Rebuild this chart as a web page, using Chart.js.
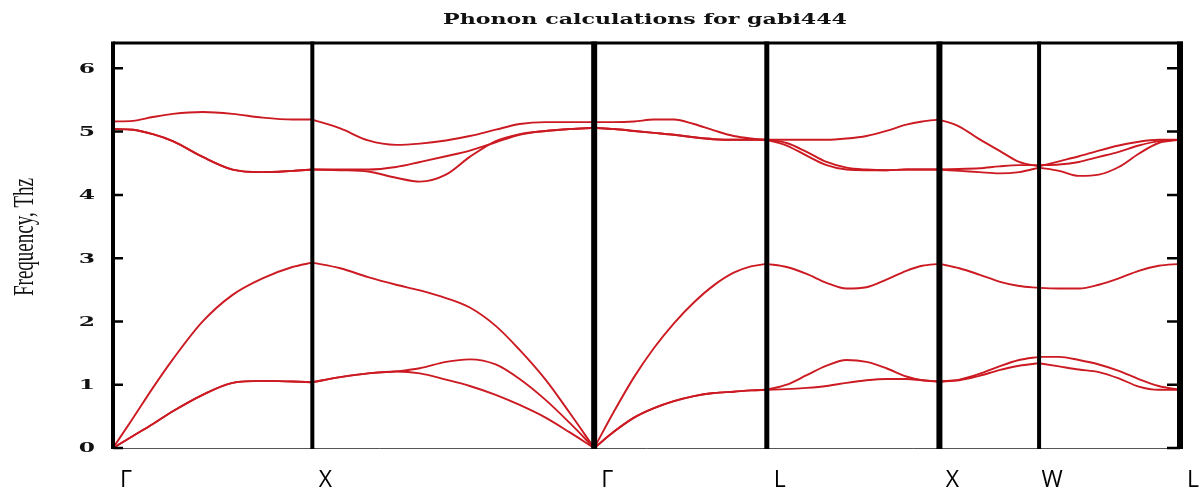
<!DOCTYPE html>
<html>
<head>
<meta charset="utf-8">
<script src="https://cdn.jsdelivr.net/npm/chart.js@4.4.1/dist/chart.umd.min.js"></script>
<style>
  html, body { margin: 0; padding: 0; background: #ffffff; }
  #wrap { width: 1203px; height: 495px; }
</style>
</head>
<body>
<div id="wrap"><canvas id="c" width="1203" height="495"></canvas></div>
<script>
// ---- Phonon dispersion of gabi444 along Γ–X–Γ–L–X–W–L ----
const chartTitle = 'Phonon calculations for gabi444';
const yAxisTitle = 'Frequency, Thz';
const symmetryLabels = ['Γ', 'X', 'Γ', 'L', 'X', 'W', 'L'];
const symmetryK = [0, 1, 2.414, 3.280, 4.146, 4.646, 5.353];
const yTicks = [0, 1, 2, 3, 4, 5, 6];

// Wave-vector positions along the path (units of 2π/a)
const kPoints = [
  0, 0.1, 0.2, 0.3, 0.45, 0.6, 0.75, 0.9, 1.0,
  1.14, 1.28, 1.42, 1.54, 1.67, 1.79, 1.92, 2.04, 2.17, 2.29, 2.414,
  2.514, 2.614, 2.714, 2.814, 2.914, 3.014, 3.114, 3.2, 3.28,
  3.38, 3.48, 3.58, 3.68, 3.78, 3.88, 3.98, 4.06, 4.146,
  4.246, 4.346, 4.446, 4.546, 4.646,
  4.746, 4.846, 4.946, 5.046, 5.146, 5.246, 5.353
];

// Branch frequencies (THz) at each k point
const band1 = [
  0, 0.19, 0.38, 0.58, 0.84, 1.03, 1.06, 1.05, 1.04,
  1.12, 1.18, 1.21, 1.18, 1.08, 0.98, 0.84, 0.68, 0.48, 0.25, 0,
  0.26, 0.48, 0.63, 0.74, 0.82, 0.87, 0.89, 0.91, 0.92,
  0.93, 0.95, 0.98, 1.03, 1.07, 1.09, 1.09, 1.07, 1.05,
  1.07, 1.14, 1.23, 1.30, 1.34,
  1.29, 1.24, 1.20, 1.10, 0.97, 0.92, 0.92
];
const band2 = [
  0, 0.19, 0.38, 0.58, 0.84, 1.03, 1.06, 1.05, 1.04,
  1.12, 1.18, 1.21, 1.26, 1.36, 1.40, 1.32, 1.09, 0.76, 0.40, 0,
  0.26, 0.48, 0.63, 0.74, 0.82, 0.87, 0.89, 0.91, 0.92,
  1.00, 1.15, 1.30, 1.39, 1.36, 1.26, 1.13, 1.07, 1.05,
  1.08, 1.17, 1.29, 1.39, 1.44,
  1.44, 1.39, 1.32, 1.22, 1.09, 0.98, 0.92
];
const band3 = [
  0, 0.47, 0.95, 1.40, 2.00, 2.42, 2.68, 2.86, 2.93,
  2.84, 2.70, 2.58, 2.49, 2.37, 2.22, 1.93, 1.55, 1.08, 0.56, 0,
  0.58, 1.12, 1.58, 1.97, 2.30, 2.57, 2.77, 2.87, 2.91,
  2.86, 2.75, 2.61, 2.52, 2.54, 2.66, 2.80, 2.88, 2.91,
  2.84, 2.74, 2.63, 2.56, 2.53,
  2.52, 2.52, 2.58, 2.68, 2.80, 2.88, 2.91
];
const band4 = [
  5.04, 5.03, 4.96, 4.85, 4.60, 4.40, 4.36, 4.38, 4.40,
  4.39, 4.37, 4.27, 4.21, 4.32, 4.60, 4.85, 4.96, 5.01, 5.04, 5.06,
  5.04, 5.01, 4.98, 4.95, 4.91, 4.88, 4.87, 4.87, 4.87,
  4.78, 4.62, 4.47, 4.40, 4.39, 4.39, 4.40, 4.40, 4.40,
  4.38, 4.36, 4.34, 4.36, 4.43,
  4.38, 4.30, 4.32, 4.44, 4.65, 4.82, 4.87
];
const band5 = [
  5.04, 5.03, 4.96, 4.85, 4.60, 4.40, 4.36, 4.38, 4.40,
  4.40, 4.40, 4.44, 4.52, 4.61, 4.70, 4.83, 4.95, 5.01, 5.04, 5.06,
  5.04, 5.01, 4.98, 4.95, 4.91, 4.88, 4.87, 4.87, 4.87,
  4.82, 4.68, 4.52, 4.43, 4.40, 4.39, 4.40, 4.40, 4.40,
  4.41, 4.42, 4.45, 4.47, 4.47,
  4.48, 4.52, 4.60, 4.68, 4.78, 4.85, 4.87
];
const band6 = [
  5.16, 5.17, 5.23, 5.28, 5.31, 5.28, 5.22, 5.19, 5.19,
  5.05, 4.86, 4.79, 4.81, 4.86, 4.93, 5.03, 5.12, 5.15, 5.15, 5.15,
  5.15, 5.16, 5.19, 5.19, 5.12, 5.02, 4.93, 4.89, 4.87,
  4.87, 4.87, 4.87, 4.89, 4.93, 5.01, 5.11, 5.16, 5.19,
  5.08, 4.88, 4.70, 4.52, 4.45,
  4.53, 4.61, 4.70, 4.78, 4.84, 4.87, 4.87
];
const bands = [band1, band2, band3, band4, band5, band6];

// Style
const lineColor = '#cc1a22';
const dividerWidths = [4, 4, 6, 5, 6, 4, 6];

// Split each branch at the high-symmetry points so every path segment
// is smoothed on its own (kinks at Γ, X, L ... are kept).
const breakIdx = symmetryK.map(k => kPoints.findIndex(p => Math.abs(p - k) < 1e-6));
const datasets = [];
bands.forEach((band, b) => {
  for (let s = 0; s < breakIdx.length - 1; s++) {
    const pts = [];
    for (let i = breakIdx[s]; i <= breakIdx[s + 1]; i++) {
      pts.push({ x: kPoints[i], y: band[i] });
    }
    datasets.push({
      label: 'branch ' + (b + 1),
      data: pts,
      borderColor: lineColor,
      borderWidth: 1.9,
      pointRadius: 0,
      fill: false,
      cubicInterpolationMode: 'monotone'
    });
  }
});

// Frame, symmetry dividers, tick marks and all text
const decorations = {
  id: 'decorations',
  afterDatasetsDraw(chart) {
    const { ctx, chartArea: a, scales: { x, y } } = chart;
    ctx.save();

    // thin base line
    ctx.strokeStyle = '#555';
    ctx.lineWidth = 1;
    ctx.beginPath();
    ctx.moveTo(a.left, a.bottom + 0.5);
    ctx.lineTo(a.right, a.bottom + 0.5);
    ctx.stroke();

    // top border
    ctx.strokeStyle = '#000';
    ctx.lineWidth = 3;
    ctx.beginPath();
    ctx.moveTo(a.left, a.top);
    ctx.lineTo(a.right + 3, a.top);
    ctx.stroke();

    // vertical lines at the high-symmetry points (outer ones form the frame)
    symmetryK.forEach((k, i) => {
      const px = x.getPixelForValue(k);
      ctx.lineWidth = dividerWidths[i];
      ctx.beginPath();
      ctx.moveTo(px, a.top - 1.5);
      ctx.lineTo(px, a.bottom + 1);
      ctx.stroke();
    });

    // inward tick marks on both sides
    ctx.lineWidth = 2.5;
    yTicks.forEach(v => {
      const py = y.getPixelForValue(v);
      ctx.beginPath();
      ctx.moveTo(a.left, py);
      ctx.lineTo(a.left + 10, py);
      ctx.moveTo(a.right - 13, py);
      ctx.lineTo(a.right, py);
      ctx.stroke();
    });

    // y tick labels
    ctx.fillStyle = '#111';
    ctx.font = 'bold 13px "DejaVu Serif"';
    ctx.textAlign = 'right';
    ctx.textBaseline = 'middle';
    yTicks.forEach(v => {
      const py = y.getPixelForValue(v);
      ctx.save();
      ctx.translate(95, py + 1);
      ctx.scale(1.8, 1);
      ctx.fillText(String(v), 0, 0);
      ctx.restore();
    });

    // y axis title
    ctx.save();
    ctx.font = '19px "Liberation Serif"';
    ctx.textAlign = 'center';
    ctx.textBaseline = 'alphabetic';
    ctx.translate(33, 237);
    ctx.scale(1.6, 1);
    ctx.rotate(-Math.PI / 2);
    ctx.fillText(yAxisTitle, 0, 0);
    ctx.restore();

    // high-symmetry point labels
    ctx.fillStyle = '#000';
    ctx.font = '23px "Open Sans"';
    ctx.textAlign = 'center';
    ctx.textBaseline = 'alphabetic';
    symmetryK.forEach((k, i) => {
      ctx.fillText(symmetryLabels[i], x.getPixelForValue(k) + 13, 487);
    });

    // title
    ctx.save();
    ctx.fillStyle = '#111';
    ctx.font = 'bold 15px "DejaVu Serif"';
    ctx.textAlign = 'center';
    ctx.textBaseline = 'alphabetic';
    const w = ctx.measureText(chartTitle).width;
    ctx.translate(645, 24);
    ctx.scale(404 / w, 1);
    ctx.fillText(chartTitle, 0, 0);
    ctx.restore();

    ctx.restore();
  }
};

new Chart(document.getElementById('c'), {
  type: 'line',
  data: { datasets },
  options: {
    responsive: false,
    devicePixelRatio: 1,
    animation: false,
    layout: { padding: { left: 113, right: 23, top: 43, bottom: 47 } },
    plugins: { legend: { display: false }, tooltip: { enabled: false }, title: { display: false } },
    scales: {
      x: { type: 'linear', min: 0, max: 5.353, display: false },
      y: { type: 'linear', min: 0, max: 6.4, display: false }
    }
  },
  plugins: [decorations]
});
</script>
</body>
</html>
